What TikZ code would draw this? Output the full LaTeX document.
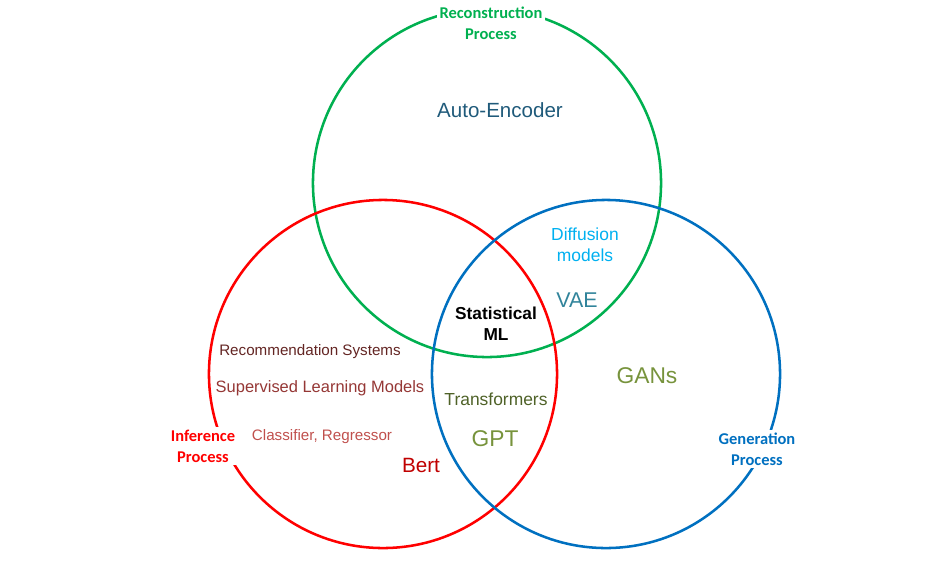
\documentclass[tikz,border=0pt]{standalone}
\usepackage{fontspec}
\setmainfont{Liberation Sans}
\newfontfamily\calibri{Carlito}
\definecolor{recgreen}{HTML}{00B050}
\definecolor{infred}{HTML}{FF0000}
\definecolor{genblue}{HTML}{0070C0}
\definecolor{autoenc}{HTML}{1F5A7A}
\definecolor{diffcol}{HTML}{00B0F0}
\definecolor{vaecol}{HTML}{31849B}
\definecolor{olivecol}{HTML}{77933C}
\definecolor{transcol}{HTML}{4F6228}
\definecolor{recsyscol}{HTML}{632523}
\definecolor{supcol}{HTML}{953735}
\definecolor{classcol}{HTML}{C0504D}
\definecolor{bertcol}{HTML}{C00000}
\begin{document}
\begin{tikzpicture}[x=0.025cm, y=-0.025cm,
	ring/.style={circle, draw, line width=1.8pt, minimum size=8.7cm, inner sep=0pt},
	proc/.style={fill=white, inner sep=2pt, align=center, font=\calibri\bfseries\fontsize{11.7}{14.8}\selectfont},
	item/.style={align=center, inner sep=0pt}]
	\useasboundingbox (0,0) rectangle (936,575);
	% the three circles
	\node[ring, draw=recgreen] (recon) at (487,183) {};
	\node[ring, draw=infred] (infer) at (383,374) {};
	\node[ring, draw=genblue] (gener) at (606,374) {};
	% circle labels
	\node[proc, text=recgreen] (reconlbl) at (491,23) {Reconstruction\\Process};
	\node[proc, text=infred] (inferlbl) at (203,446) {Inference\\Process};
	\node[proc, text=genblue] (generlbl) at (757,449) {Generation\\Process};
	% models
	\node[item, text=autoenc, font=\fontsize{14.6}{17}\selectfont] (autoenc) at (500,110) {Auto-Encoder};
	\node[item, text=diffcol, font=\fontsize{12.4}{14.8}\selectfont] (diffusion) at (585,245) {Diffusion\\models};
	\node[item, text=vaecol, font=\fontsize{15.2}{17}\selectfont] (vae) at (577,300) {VAE};
	\node[item, font=\bfseries\fontsize{12.3}{14.8}\selectfont] (statml) at (496,324) {Statistical\\ML};
	\node[item, text=recsyscol, font=\fontsize{10.8}{13}\selectfont] (recsys) at (310,352) {Recommendation Systems};
	\node[item, text=supcol, font=\fontsize{11.7}{14}\selectfont] (supervised) at (320,388) {Supervised Learning Models};
	\node[item, text=transcol, font=\fontsize{12.4}{14}\selectfont] (transformers) at (496,399) {Transformers};
	\node[item, text=olivecol, font=\fontsize{16.2}{18}\selectfont] (gans) at (647,376) {GANs};
	\node[item, text=olivecol, font=\fontsize{16.2}{18}\selectfont] (gpt) at (495,439) {GPT};
	\node[item, text=classcol, font=\fontsize{10.8}{13}\selectfont] (classifier) at (322,437) {Classifier, Regressor};
	\node[item, text=bertcol, font=\fontsize{14.7}{17}\selectfont] (bert) at (421,465) {Bert};
\end{tikzpicture}
\end{document}
